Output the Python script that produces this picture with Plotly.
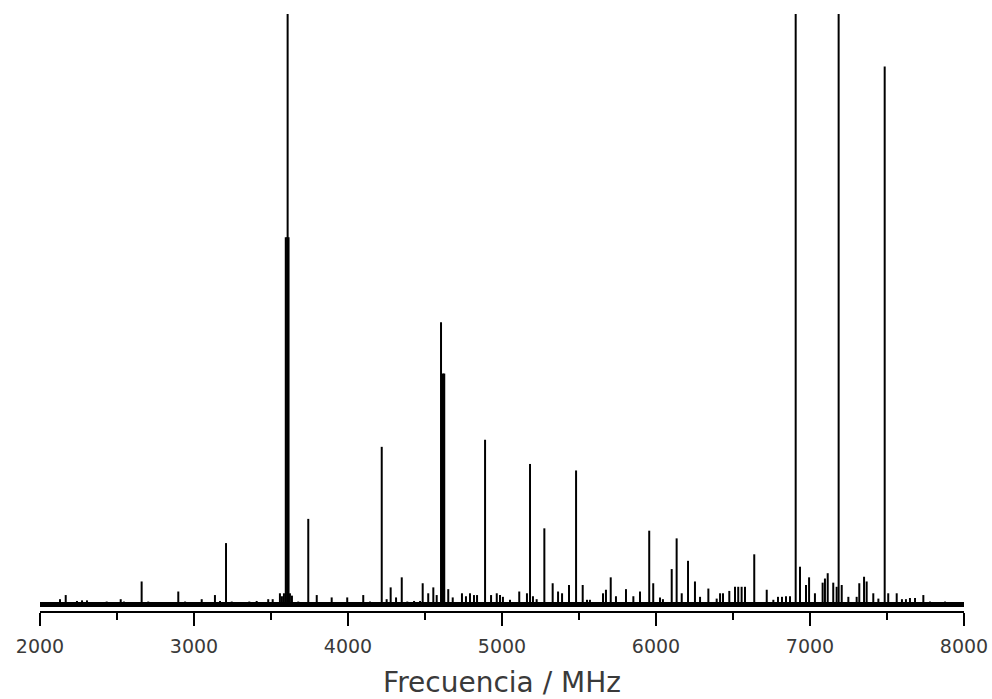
import plotly.graph_objects as go

# Line positions (MHz) and relative intensities of the stick spectrum
strong_freq = [3208, 3596, 3605, 3608, 3614, 3742, 4219, 4604, 4614, 4620,
               4625, 4890, 5182, 5275, 5481, 5956, 6102, 6134, 6208, 6638,
               6907, 7186, 7485]
strong_int = [10.4, 62.2, 62.2, 140.0, 62.2, 14.5, 26.7, 47.8, 39.1, 39.1,
              39.1, 27.9, 23.8, 12.9, 22.7, 12.5, 6.0, 11.2, 7.4, 8.5,
              140.0, 140.0, 91.1]

weak_freq = [2130, 2167, 2240, 2273, 2305, 2433, 2524, 2545, 2660, 2703,
             2898, 2942, 3050, 3136, 3169, 3245, 3359, 3407, 3482, 3511,
             3558, 3571, 3584, 3623, 3636, 3677, 3797, 3894, 3995, 4099,
             4143, 4251, 4277, 4312, 4349, 4385, 4429, 4468, 4485, 4521,
             4554, 4576, 4651, 4680, 4740, 4766, 4792, 4818, 4838, 4929,
             4966, 4987, 5006, 5052, 5112, 5162, 5201, 5225, 5329, 5364,
             5390, 5435, 5524, 5552, 5571, 5656, 5675, 5706, 5740, 5805,
             5853, 5896, 5982, 6026, 6045, 6167, 6253, 6286, 6340, 6394,
             6416, 6435, 6476, 6513, 6534, 6556, 6578, 6719, 6762, 6792,
             6818, 6844, 6870, 6935, 6974, 6994, 7032, 7082, 7097, 7115,
             7151, 7173, 7206, 7249, 7303, 7320, 7351, 7368, 7411, 7444,
             7508, 7563, 7597, 7623, 7649, 7682, 7736, 7779, 7877]
weak_int = [0.9, 1.6, 0.6, 0.7, 0.7, 0.5, 0.9, 0.5, 3.9, 0.5,
            2.2, 0.5, 0.9, 1.6, 0.6, 0.5, 0.5, 0.6, 0.9, 0.9,
            1.9, 1.4, 1.9, 1.9, 1.5, 0.5, 1.6, 1.2, 1.2, 1.6,
            0.5, 0.9, 2.9, 1.2, 4.6, 0.5, 0.6, 0.6, 3.6, 1.9,
            2.9, 1.6, 2.6, 1.2, 1.9, 1.4, 1.9, 1.6, 1.6, 1.6,
            1.9, 1.6, 1.3, 0.8, 2.2, 1.9, 1.4, 0.9, 3.6, 2.2,
            1.9, 3.3, 3.3, 0.8, 0.8, 1.9, 2.5, 4.6, 1.4, 2.6,
            1.4, 2.2, 3.6, 1.2, 0.9, 1.9, 3.9, 1.3, 2.7, 1.0,
            1.9, 1.9, 2.3, 3.0, 3.0, 3.0, 3.0, 2.5, 0.8, 1.3,
            1.3, 1.4, 1.4, 6.4, 3.3, 4.6, 1.9, 3.7, 4.4, 5.3,
            3.7, 3.0, 3.3, 1.3, 1.3, 3.6, 4.7, 3.9, 1.9, 1.0,
            1.9, 1.9, 0.9, 0.9, 1.1, 1.1, 1.6, 0.5, 0.5]

freq_range = [2000, 8000]
tick_vals = [2000, 3000, 4000, 5000, 6000, 7000, 8000]
tick_text = ["2000", "3000", "4000", "5000", "6000", "7000", "8000"]
x_title = "Frecuencia / MHz"

# Build vertical sticks: baseline -> intensity -> gap
freqs = weak_freq + strong_freq
ints = weak_int + strong_int
stick_x, stick_y = [], []
for f, h in zip(freqs, ints):
    stick_x += [f, f, None]
    stick_y += [0, h, None]

fig = go.Figure()

# Dense noise floor drawn as a heavy baseline
fig.add_trace(go.Scatter(
    x=freq_range, y=[0, 0], mode="lines",
    line=dict(color="black", width=5), hoverinfo="skip", showlegend=False,
))
fig.add_trace(go.Scatter(
    x=stick_x, y=stick_y, mode="lines",
    line=dict(color="black", width=2), showlegend=False,
))

text_color = "#3a3a3a"
fig.update_layout(
    width=992, height=699,
    margin=dict(l=40, r=28, t=14, b=88),
    paper_bgcolor="white", plot_bgcolor="white",
    font=dict(family="DejaVu Sans", color=text_color),
    xaxis=dict(
        range=freq_range, automargin=False,
        tickvals=tick_vals, ticktext=tick_text,
        showline=True, linecolor="black", linewidth=2,
        ticks="outside", ticklen=13, tickwidth=2, tickcolor="black",
        minor=dict(ticks="outside", ticklen=7, tickwidth=2,
                   tickcolor="black", dtick=500, tick0=2000),
        tickfont=dict(size=19, color=text_color),
        ticklabelstandoff=4,
        showgrid=False, zeroline=False,
        title=dict(text=x_title, font=dict(size=28, color=text_color),
                   standoff=22),
    ),
    yaxis=dict(range=[-1.1, 100], visible=False, showgrid=False,
               zeroline=False, automargin=False),
)

fig.write_html("out.html")
